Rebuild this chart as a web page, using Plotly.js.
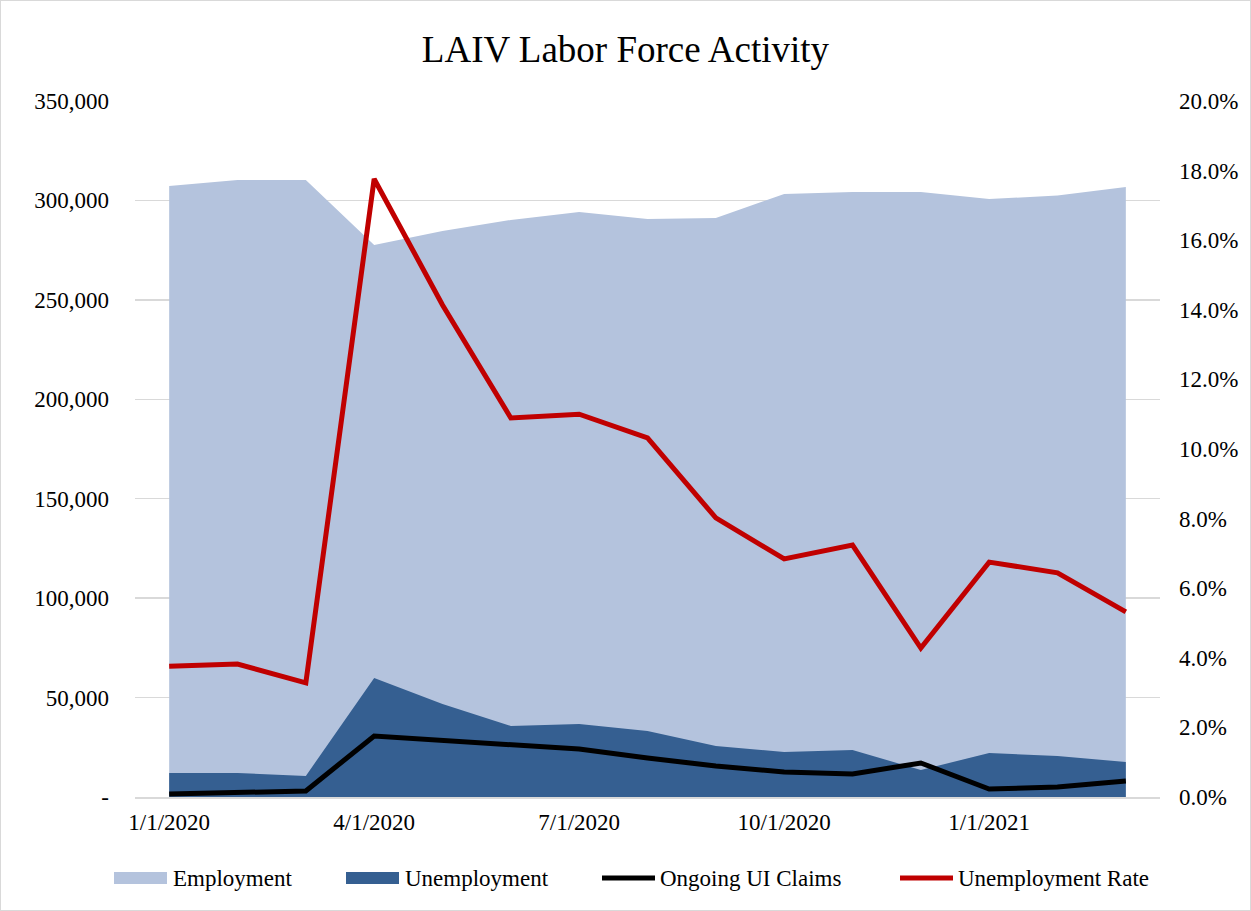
<!DOCTYPE html>
<html>
<head>
<meta charset="utf-8">
<script src="https://cdn.plot.ly/plotly-3.0.1.min.js"></script>
<style>
  html, body { margin: 0; padding: 0; background: #fff; }
  #chart { width: 1249px; height: 909px; border: 1px solid #d9d9d9; }
</style>
</head>
<body>
<div id="chart"></div>
<script>
const months = ["1/1/2020","2/1/2020","3/1/2020","4/1/2020","5/1/2020","6/1/2020","7/1/2020","8/1/2020","9/1/2020","10/1/2020","11/1/2020","12/1/2020","1/1/2021","2/1/2021","3/1/2021"];
const employment = [307300, 310300, 310300, 277600, 284600, 290200, 294200, 290700, 291200, 303200, 304200, 304200, 300700, 302500, 306800];
const unemployment = [12100, 12100, 10600, 59800, 46800, 35700, 36700, 33200, 25600, 22600, 23600, 13600, 22100, 20600, 17600];
const uiClaims = [1500, 2300, 3000, 30700, 28700, 26100, 24100, 19600, 15600, 12600, 11600, 17100, 4000, 5000, 8000];
const unemploymentRate = [0.0376, 0.0382, 0.0328, 0.1776, 0.1414, 0.1089, 0.1100, 0.1032, 0.0802, 0.0684, 0.0724, 0.0428, 0.0675, 0.0644, 0.0532];
const xTickLabels = ["1/1/2020","4/1/2020","7/1/2020","10/1/2020","1/1/2021"];
const leftTicks = [0, 50000, 100000, 150000, 200000, 250000, 300000, 350000];
const rightTicks = [0, 0.02, 0.04, 0.06, 0.08, 0.10, 0.12, 0.14, 0.16, 0.18, 0.20];
const seriesNames = ["Employment", "Unemployment", "Ongoing UI Claims", "Unemployment Rate"];
const seriesColors = ["#b4c3dd", "#355f91", "#000000", "#c00000"];

const font = "Liberation Serif, Times New Roman, serif";
const leftText = leftTicks.map(v => v === 0 ? "-" : v.toLocaleString("en-US"));
const rightText = rightTicks.map(v => (v * 100).toFixed(1) + "%");

const traces = [
  { x: months, y: employment, name: seriesNames[0], type: "scatter", mode: "lines",
    fill: "tozeroy", fillcolor: seriesColors[0], line: { width: 0, color: seriesColors[0] } },
  { x: months, y: unemployment, name: seriesNames[1], type: "scatter", mode: "lines",
    fill: "tozeroy", fillcolor: seriesColors[1], line: { width: 0, color: seriesColors[1] } },
  { x: months, y: uiClaims, name: seriesNames[2], type: "scatter", mode: "lines",
    line: { width: 5, color: seriesColors[2] } },
  { x: months, y: unemploymentRate, name: seriesNames[3], type: "scatter", mode: "lines",
    yaxis: "y2", line: { width: 5, color: seriesColors[3] } }
];

// Plot area in page pixels: x 135..1160, y 101..797
const PL = 135, PW = 1025, PB = 797, PH = 696;
const px = v => (v - PL) / PW;
const py = v => (PB - v) / PH;

// custom legend (Excel-style swatches)
const legendItems = [
  { kind: "rect", x0: 114, x1: 167, tx: 171 },
  { kind: "rect", x0: 346, x1: 399, tx: 403 },
  { kind: "line", x0: 602, x1: 655, tx: 658 },
  { kind: "line", x0: 900, x1: 953, tx: 956 }
];
const legendY = 878;
const shapes = [];
const annotations = [];
legendItems.forEach((it, i) => {
  if (it.kind === "rect") {
    shapes.push({ type: "rect", xref: "paper", yref: "paper", x0: px(it.x0), x1: px(it.x1),
      y0: py(legendY - 6), y1: py(legendY + 6), fillcolor: seriesColors[i], line: { width: 0 } });
  } else {
    shapes.push({ type: "line", xref: "paper", yref: "paper", x0: px(it.x0), x1: px(it.x1),
      y0: py(legendY), y1: py(legendY), line: { color: seriesColors[i], width: 5 } });
  }
  annotations.push({ xref: "paper", yref: "paper", x: px(it.tx), y: py(legendY), xanchor: "left", yanchor: "middle",
    text: seriesNames[i], showarrow: false, font: { family: font, size: 23, color: "#000" } });
});

const layout = {
  width: 1249, height: 909,
  margin: { l: 134, r: 90, t: 100, b: 113 },
  paper_bgcolor: "#ffffff", plot_bgcolor: "#ffffff",
  font: { family: font, size: 23, color: "#000" },
  title: { text: "LAIV Labor Force Activity", font: { family: font, size: 37, color: "#000" },
           x: 0.5, xanchor: "center", y: 0.947, yanchor: "middle" },
  showlegend: false,
  shapes: shapes,
  annotations: annotations,
  xaxis: { type: "category", range: [-0.5, 14.5], tickmode: "array", tickvals: xTickLabels, ticktext: xTickLabels,
           showgrid: false, showline: true, linecolor: "#d9d9d9", linewidth: 1.5, ticks: "",
           tickfont: { family: font, size: 23 }, ticklabelstandoff: 4 },
  yaxis: { range: [0, 350000], tickmode: "array", tickvals: leftTicks, ticktext: leftText,
           showgrid: true, gridcolor: "#d9d9d9", gridwidth: 1.5, zeroline: false, showline: false,
           ticks: "", tickfont: { family: font, size: 23 }, ticklabelstandoff: 25 },
  yaxis2: { range: [0, 0.20], overlaying: "y", side: "right", tickmode: "array", tickvals: rightTicks, ticktext: rightText,
            showgrid: false, zeroline: false, showline: false, ticks: "",
            tickfont: { family: font, size: 23 }, ticklabelstandoff: 18 }
};

Plotly.newPlot("chart", traces, layout, { displayModeBar: false, staticPlot: true });
</script>
</body>
</html>
